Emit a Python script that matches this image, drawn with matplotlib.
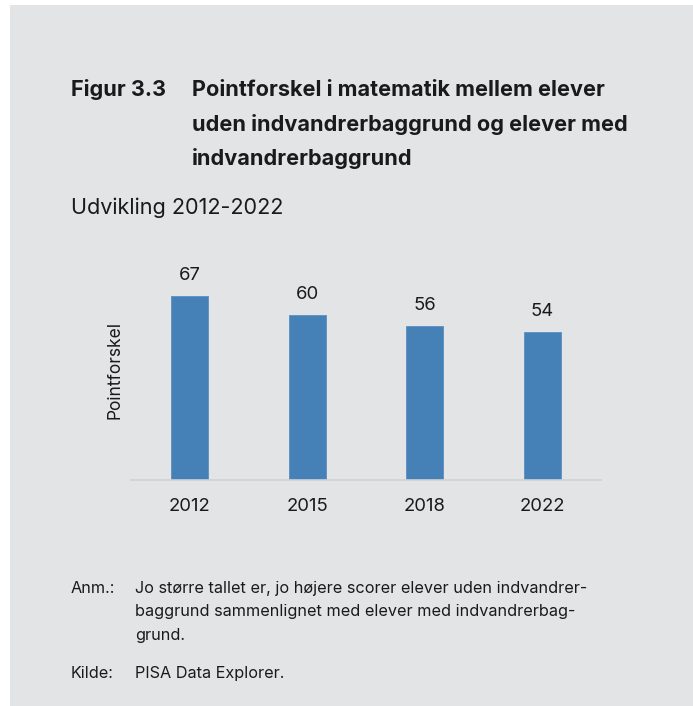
import numpy as np
import matplotlib.pyplot as plt
from matplotlib.patches import Rectangle

# data
years = ["2012", "2015", "2018", "2022"]
values = [67, 60, 56, 54]

title_num = "Figur 3.3"
title_lines = ["Pointforskel i matematik mellem elever",
               "uden indvandrerbaggrund og elever med",
               "indvandrerbaggrund"]
subtitle = "Udvikling 2012-2022"
ylabel = "Pointforskel"
note_lines = ["Jo større tallet er, jo højere scorer elever uden indvandrer-",
              "baggrund sammenlignet med elever med indvandrerbag-",
              "grund."]
source = "PISA Data Explorer."

plt.rcParams['font.family'] = ['Inter', 'DejaVu Sans']
W, H = 693, 706
bg = '#e3e4e6'
txt = '#1a1a1a'

fig = plt.figure(figsize=(W / 100, H / 100), dpi=100)
fig.patch.set_facecolor('white')
fig.patches.append(Rectangle((10 / W, 0), 1 - 10 / W, 1 - 5 / H,
                             transform=fig.transFigure, facecolor=bg,
                             edgecolor='none', zorder=-10))

def fy(y):
    return 1 - y / H

def fx(x):
    return x / W

# title
fig.text(fx(71), fy(96), title_num, fontsize=15.6, fontweight='bold',
         color=txt, va='baseline')
for i, line in enumerate(title_lines):
    fig.text(fx(192), fy(96 + 34.6 * i), line, fontsize=15.6,
             fontweight='bold', color=txt, va='baseline')
fig.text(fx(71), fy(214), subtitle, fontsize=15.6, color=txt, va='baseline')

# chart
ax = fig.add_axes([fx(131), fy(480), fx(601) - fx(131), (480 - 260) / H])
ax.set_facecolor('none')
x = np.arange(len(years))
bars = ax.bar(x, values, width=0.315, color='#4580b6', edgecolor='#5a8fc0',
              linewidth=0.6)
for xi, v in zip(x, values):
    ax.annotate(str(v), (xi, v), xytext=(0, 11.5), textcoords='offset points',
                ha='center', va='baseline', fontsize=13.3, color=txt)
ax.set_xlim(-0.5, 3.5)
ax.set_ylim(0, 80)
ax.set_xticks(x)
ax.set_xticklabels(years, fontsize=13.3, color=txt)
ax.tick_params(axis='x', length=0, pad=13)
ax.set_yticks([])
for s in ['top', 'right', 'left']:
    ax.spines[s].set_visible(False)
ax.spines['bottom'].set_color('#d0d1d3')
ax.spines['bottom'].set_linewidth(1.2)
ax.set_ylabel(ylabel, fontsize=12.5, color=txt)
ax.yaxis.set_label_coords(-0.017, 0.5)

# notes
fs_note = 11.7
fig.text(fx(71), fy(593), "Anm.:", fontsize=fs_note, color=txt, va='baseline')
for i, line in enumerate(note_lines):
    fig.text(fx(135), fy(593 + 23.3 * i), line, fontsize=fs_note, color=txt,
             va='baseline')
fig.text(fx(71), fy(678), "Kilde:", fontsize=fs_note, color=txt, va='baseline')
fig.text(fx(135), fy(678), source, fontsize=fs_note, color=txt, va='baseline')

fig.savefig('out.png', dpi=100, facecolor=fig.get_facecolor())
